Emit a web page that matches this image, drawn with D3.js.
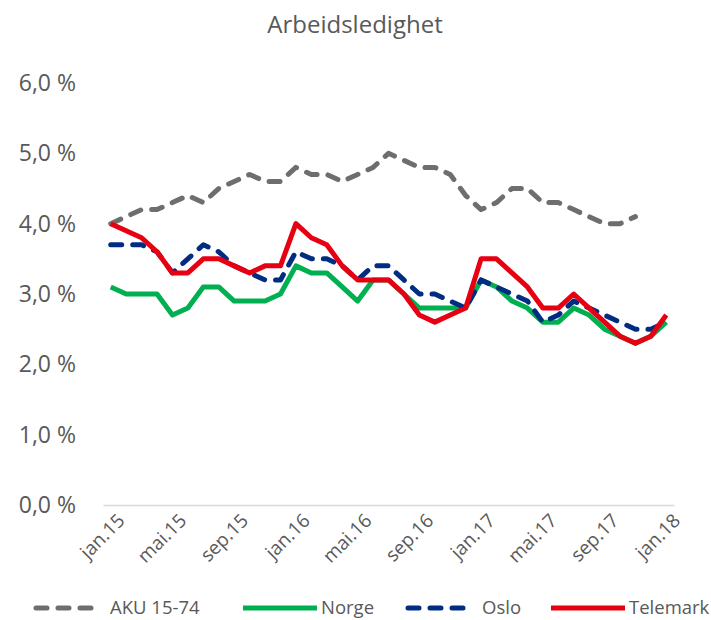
<!DOCTYPE html>
<html>
<head>
<meta charset="utf-8">
<script src="https://cdn.jsdelivr.net/npm/d3@7"></script>
<style>
  body { margin: 0; background: #fff; }
  text { font-family: "Open Sans", sans-serif; fill: #595959; }
</style>
</head>
<body>
<svg id="chart" width="711" height="620"></svg>
<script>
// months jan.15 .. jan.18
const MONTHS = ["jan", "feb", "mar", "apr", "mai", "jun", "jul", "aug", "sep", "okt", "nov", "des"];
const PERIODS = d3.range(37).map(i => MONTHS[i % 12] + "." + (15 + Math.floor(i / 12)));
const TICK_LABELS = ["jan.15", "mai.15", "sep.15", "jan.16", "mai.16", "sep.16", "jan.17", "mai.17", "sep.17", "jan.18"];
const Y_TICKS = [0, 1, 2, 3, 4, 5, 6];

const AKU = [4.0, 4.1, 4.2, 4.2, 4.3, 4.4, 4.3, 4.5, 4.6, 4.7, 4.6, 4.6,
             4.8, 4.7, 4.7, 4.6, 4.7, 4.8, 5.0, 4.9, 4.8, 4.8, 4.7, 4.4,
             4.2, 4.3, 4.5, 4.5, 4.3, 4.3, 4.2, 4.1, 4.0, 4.0, 4.1, null, null];
const NORGE = [3.1, 3.0, 3.0, 3.0, 2.7, 2.8, 3.1, 3.1, 2.9, 2.9, 2.9, 3.0,
               3.4, 3.3, 3.3, 3.1, 2.9, 3.2, 3.2, 3.0, 2.8, 2.8, 2.8, 2.8,
               3.2, 3.1, 2.9, 2.8, 2.6, 2.6, 2.8, 2.7, 2.5, 2.4, 2.3, 2.4, 2.6];
const OSLO = [3.7, 3.7, 3.7, 3.6, 3.3, 3.5, 3.7, 3.6, 3.4, 3.3, 3.2, 3.2,
              3.6, 3.5, 3.5, 3.4, 3.2, 3.4, 3.4, 3.2, 3.0, 3.0, 2.9, 2.8,
              3.2, 3.1, 3.0, 2.9, 2.6, 2.7, 2.9, 2.8, 2.7, 2.6, 2.5, 2.5, 2.6];
const TELEMARK = [4.0, 3.9, 3.8, 3.6, 3.3, 3.3, 3.5, 3.5, 3.4, 3.3, 3.4, 3.4,
                  4.0, 3.8, 3.7, 3.4, 3.2, 3.2, 3.2, 3.0, 2.7, 2.6, 2.7, 2.8,
                  3.5, 3.5, 3.3, 3.1, 2.8, 2.8, 3.0, 2.8, 2.6, 2.4, 2.3, 2.4, 2.7];

const SERIES = [
  { name: "AKU 15-74", values: AKU, color: "#6e6e6e", dash: "11,11" },
  { name: "Norge", values: NORGE, color: "#00b050", dash: null },
  { name: "Oslo", values: OSLO, color: "#002c82", dash: "11,11" },
  { name: "Telemark", values: TELEMARK, color: "#e60012", dash: null }
];

const svg = d3.select("#chart");

const x = d3.scalePoint()
  .domain(PERIODS)
  .range([103, 674])
  .padding(0.5);

const y = d3.scaleLinear()
  .domain([0, 6])
  .range([505, 83]);

svg.append("text")
  .attr("x", 355)
  .attr("y", 33)
  .attr("text-anchor", "middle")
  .attr("font-size", "24px")
  .text("Arbeidsledighet");

// y axis labels only, no gridlines
svg.append("g")
  .selectAll("text")
  .data(Y_TICKS)
  .enter()
  .append("text")
  .attr("x", 76)
  .attr("y", d => y(d))
  .attr("dy", "0.35em")
  .attr("text-anchor", "end")
  .attr("font-size", "23px")
  .text(d => d3.format(".1f")(d).replace(".", ",") + " %");

const xAxis = svg.append("g")
  .attr("transform", `translate(0,${y(0)})`)
  .call(d3.axisBottom(x).tickValues(TICK_LABELS).tickSize(0).tickPadding(10));
xAxis.select(".domain").attr("stroke", "#d9d9d9").attr("stroke-width", 1.5);
xAxis.selectAll("text")
  .attr("font-size", "19px")
  .attr("font-family", "'Open Sans', sans-serif")
  .attr("fill", "#595959")
  .attr("text-anchor", "end")
  .attr("dy", "0.35em")
  .attr("transform", "translate(3,5) rotate(-45)");

const line = d3.line()
  .defined(d => d != null)
  .x((d, i) => x(PERIODS[i]))
  .y(d => y(d));

svg.append("g")
  .selectAll("path")
  .data(SERIES)
  .enter()
  .append("path")
  .attr("d", d => line(d.values))
  .attr("fill", "none")
  .attr("stroke", d => d.color)
  .attr("stroke-width", 5)
  .attr("stroke-linejoin", "round")
  .attr("stroke-linecap", d => d.dash ? "round" : "butt")
  .attr("stroke-dasharray", d => d.dash);

// legend
const LEGEND_X = [33, 243, 405, 551];
const legend = svg.append("g")
  .selectAll("g")
  .data(SERIES)
  .enter()
  .append("g")
  .attr("transform", (d, i) => `translate(${LEGEND_X[i]},608)`);

legend.append("line")
  .attr("x1", d => d.dash ? 3 : 0)
  .attr("x2", d => d.dash ? 67 : 74)
  .attr("stroke", d => d.color)
  .attr("stroke-width", 5)
  .attr("stroke-linecap", d => d.dash ? "round" : "butt")
  .attr("stroke-dasharray", d => d.dash);

legend.append("text")
  .attr("x", d => d.dash ? 77 : 78)
  .attr("dy", "0.35em")
  .attr("font-size", "18.5px")
  .text(d => d.name);
</script>
</body>
</html>
